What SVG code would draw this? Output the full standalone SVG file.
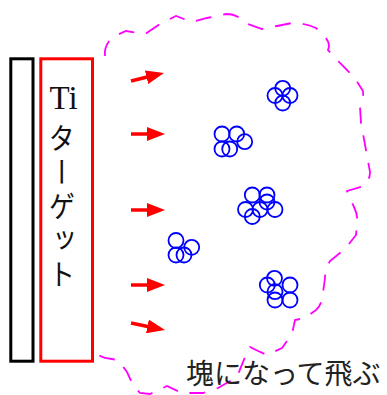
<svg xmlns="http://www.w3.org/2000/svg" width="387" height="395" viewBox="0 0 387 395">
<defs>
<style>
.c{fill:none;stroke:#0000FF;stroke-width:1.8}
.arr{stroke:#FF0000;stroke-width:3.5;fill:none}
</style>
<marker id="ah" markerUnits="userSpaceOnUse" markerWidth="18" markerHeight="14" refX="4" refY="7" orient="auto">
<path d="M0,0 L18,7 L0,14 z" fill="#FF0000"/>
</marker>
</defs>
<rect width="387" height="395" fill="#fff"/>
<g id="backing">
<rect x="10.8" y="58.8" width="22.2" height="302.4" fill="none" stroke="#000" stroke-width="3"/>
</g>
<g id="target">
<rect x="40.8" y="58.8" width="51.7" height="302.4" fill="none" stroke="#FF0000" stroke-width="3"/>
<text x="63.5" y="109" font-family="'Liberation Serif',serif" font-size="33" fill="#111" text-anchor="middle">Ti</text>
<text x="62" y="123" writing-mode="vertical-rl" font-family="'Noto Sans CJK JP',sans-serif" font-size="30" letter-spacing="4" fill="#111" transform="translate(62,0) scale(0.88,1) translate(-62,0)">ターゲット</text>
</g>
<g id="plume">
<path d="M105,56 C104,48 108,40 115,36 L126,31 L145,34 L160,24 L176,16 L192,22 L207,18 L226,14 Q238,14 245,23 L262,29 L277,26 L292,23 Q305,23 316,28 L325,37 Q331,44 328,50 L340,63 L354,77 L363,91 Q364,98 360,107 L361,123 L366,150 L370,172 Q370,180 364,186 L347,191 L354,207 Q358,215 357,222 L356,235 L345,249 L330,261 Q325,270 325,278 L323,293 Q322,305 316,310 L305,318 L295,320 L292,334 L282,348 L267,355 L256,350 L250,347 L245,357 L237,377 L218,388 L203,393 L182,393 L167,386 L150,394 L140,393 L133,385 L127,372 L118,360 L105,358 L98,355" fill="none" stroke="#FF00FF" stroke-width="1.8" stroke-dasharray="16 12"/>
</g>
<g id="connectors">
<line class="arr" x1="131" y1="81" x2="150.4" y2="76.3" marker-end="url(#ah)"/>
<line class="arr" x1="131" y1="134" x2="151" y2="134" marker-end="url(#ah)"/>
<line class="arr" x1="131" y1="210" x2="151" y2="210" marker-end="url(#ah)"/>
<line class="arr" x1="131" y1="285" x2="151" y2="285" marker-end="url(#ah)"/>
<line class="arr" x1="131" y1="323" x2="151.3" y2="327.2" marker-end="url(#ah)"/>
</g>
<g id="cluster1">
<circle class="c" cx="282.7" cy="88.3" r="7.5"/>
<circle class="c" cx="275" cy="95.5" r="7.5"/>
<circle class="c" cx="290" cy="95.5" r="7.5"/>
<circle class="c" cx="282.7" cy="103" r="7.5"/>
</g>
<g id="cluster2">
<circle class="c" cx="222" cy="134" r="7.5"/>
<circle class="c" cx="236.7" cy="134" r="7.5"/>
<circle class="c" cx="244.7" cy="141.7" r="7.5"/>
<circle class="c" cx="222" cy="149" r="7.5"/>
<circle class="c" cx="229.7" cy="149" r="7.5"/>
</g>
<g id="cluster3">
<circle class="c" cx="252.3" cy="195" r="7.5"/>
<circle class="c" cx="267" cy="195" r="7.5"/>
<circle class="c" cx="267" cy="202" r="7.5"/>
<circle class="c" cx="275" cy="209.5" r="7.5"/>
<circle class="c" cx="245.5" cy="209.5" r="7.5"/>
<circle class="c" cx="260" cy="209.5" r="7.5"/>
<circle class="c" cx="252.3" cy="216.5" r="7.5"/>
</g>
<g id="cluster4">
<circle class="c" cx="176" cy="240.5" r="7.5"/>
<circle class="c" cx="191.7" cy="247.3" r="7.5"/>
<circle class="c" cx="176" cy="255" r="7.5"/>
<circle class="c" cx="184" cy="255" r="7.5"/>
</g>
<g id="cluster5">
<circle class="c" cx="274.5" cy="278.3" r="7.5"/>
<circle class="c" cx="267.3" cy="285" r="7.5"/>
<circle class="c" cx="290" cy="285" r="7.5"/>
<circle class="c" cx="275" cy="291.7" r="7.5"/>
<circle class="c" cx="275" cy="300" r="7.5"/>
<circle class="c" cx="290" cy="300" r="7.5"/>
</g>
<g id="label">
<text x="186" y="384" font-family="'Noto Sans CJK JP',sans-serif" font-size="28" fill="#222">塊になって飛ぶ</text>
</g>
</svg>
